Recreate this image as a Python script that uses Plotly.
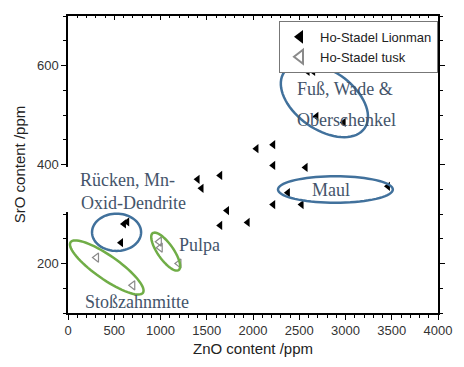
import numpy as np
import plotly.graph_objects as go

# ZnO / SrO measurements (ppm)
lion_zno = [2590, 2650, 2685, 2980,
            2037, 2218, 2218, 2568, 1645, 1401, 1443, 2377, 3459,
            2218, 2525, 1719, 1942, 1645,
            605, 640, 573]
lion_sro = [588, 588, 497, 485,
            432, 440, 398, 394, 378, 370, 352, 343, 356,
            319, 319, 307, 283, 277,
            280, 284, 242]

tusk_zno = [308, 700, 987, 997, 1199]
tusk_sro = [212, 156, 244, 232, 200]

x_range = [0, 4000]
y_range = [100, 700]
x_ticks = [0, 500, 1000, 1500, 2000, 2500, 3000, 3500, 4000]
y_ticks = [200, 400, 600]

W, H = 464, 367
M = dict(l=68, r=19, t=16, b=48)
plot_w = W - M["l"] - M["r"]
plot_h = H - M["t"] - M["b"]
sx = plot_w / (x_range[1] - x_range[0])   # px per ZnO unit
sy = plot_h / (y_range[1] - y_range[0])   # px per SrO unit

BLUE = "#41719C"
GREEN = "#70AD47"
TXT = "#44546A"
SERIF = "Liberation Serif, Times New Roman, serif"
SANS = "Liberation Sans, Arial, sans-serif"


def ellipse_path(cx, cy, a_px, b_px, angle_deg, n=72):
    """Closed SVG path (data coords) of an ellipse given in screen pixels."""
    t = np.linspace(0, 2 * np.pi, n, endpoint=False)
    th = np.radians(angle_deg)
    dx = a_px * np.cos(t) * np.cos(th) - b_px * np.sin(t) * np.sin(th)
    dy = a_px * np.cos(t) * np.sin(th) + b_px * np.sin(t) * np.cos(th)
    xs = cx + dx / sx
    ys = cy - dy / sy
    pts = [f"{x:.2f},{y:.2f}" for x, y in zip(xs, ys)]
    return "M" + " L".join(pts) + " Z"


# group outlines: (centre ZnO, centre SrO, semi-axes px, tilt, colour)
outlines = [
    (525, 263, 25, 19, 0, BLUE),      # Rücken
    (2891, 349.5, 58.5, 13.5, 0, BLUE),  # Maul
    (2772, 530, 50, 30, 35, BLUE),    # Fuß / Oberschenkel
    (419, 192, 45, 12, 35, GREEN),    # Stoßzahnmitte
    (1056, 224, 23, 8, 55, GREEN),    # Pulpa
]

fig = go.Figure()
fig.add_trace(go.Scatter(
    x=lion_zno, y=lion_sro, mode="markers", name="Ho-Stadel Lionman",
    marker=dict(symbol="triangle-left", size=8, color="black",
                line=dict(width=0)),
))
fig.add_trace(go.Scatter(
    x=tusk_zno, y=tusk_sro, mode="markers", name="Ho-Stadel tusk",
    marker=dict(symbol="triangle-left-open", size=8, color="#8a8a8a",
                line=dict(width=1.2, color="#8a8a8a")),
))
# empty companion trace so the top tick axis is drawn
fig.add_trace(go.Scatter(x=[], y=[], xaxis="x2", yaxis="y",
                         showlegend=False, hoverinfo="skip"))

for cx, cy, a, b, ang, col in outlines:
    fig.add_shape(type="path", path=ellipse_path(cx, cy, a, b, ang),
                  xref="x", yref="y", line=dict(color=col, width=2.5),
                  fillcolor="rgba(0,0,0,0)", layer="above")

# white patch interrupting the left axis behind the Rücken label
fig.add_shape(type="rect", xref="paper", yref="paper",
              x0=-0.03, x1=0.02, y0=1 - (216 - 16) / plot_h,
              y1=1 - (170 - 16) / plot_h,
              line=dict(width=0), fillcolor="white", layer="above")

labels = [
    ("Fuß, Wade &", 2992, 552, "center"),
    ("Oberschenkel", 3010, 489, "center"),
    ("Maul", 2843, 349, "center"),
    ("Rücken, Mn-", 106, 368, "left"),
    ("Oxid-Dendrite", 116, 323, "left"),
    ("Pulpa", 1178, 238, "left"),
    ("Stoßzahnmitte", 159, 123, "left"),
]
for text, x, y, anchor in labels:
    fig.add_annotation(x=x, y=y, xref="x", yref="y", text=text,
                       showarrow=False, xanchor=anchor, yanchor="middle",
                       font=dict(family=SERIF, size=18, color=TXT))

axis_common = dict(
    showline=True, linecolor="black", linewidth=1.5,
    ticks="outside", ticklen=5, tickwidth=1.2, tickcolor="black",
    showgrid=False, zeroline=False,
    tickfont=dict(family=SANS, size=13, color="#333333"),
)

fig.update_layout(
    width=W, height=H, margin=M,
    paper_bgcolor="white", plot_bgcolor="white",
    showlegend=True,
    legend=dict(x=1, xanchor="right", y=1 - 5 / plot_h, yanchor="top",
                bgcolor="white", bordercolor="#777777", borderwidth=1,
                font=dict(family=SANS, size=13, color="#222222"),
                tracegroupgap=0, itemsizing="constant"),
    xaxis=dict(range=x_range, tickvals=x_ticks, mirror=True,
               minor=dict(dtick=100, ticklen=3, ticks="outside",
                          tickcolor="black"),
               title=dict(text="ZnO content /ppm", standoff=6,
                          font=dict(family=SANS, size=15, color="#222222")),
               **axis_common),
    yaxis=dict(range=y_range, tickvals=y_ticks, mirror="ticks",
               minor=dict(dtick=50, ticklen=3, ticks="outside",
                          tickcolor="black"),
               title=dict(text="SrO content /ppm", standoff=8,
                          font=dict(family=SANS, size=15, color="#222222")),
               **axis_common),
    xaxis2=dict(range=x_range, overlaying="x", side="top", anchor="y",
                showticklabels=False, ticks="inside", ticklen=4,
                tickcolor="black", tickvals=x_ticks, showgrid=False,
                zeroline=False, showline=False,
                minor=dict(dtick=100, ticklen=2, ticks="inside",
                           tickcolor="black")),
)

fig.write_html("out.html")
